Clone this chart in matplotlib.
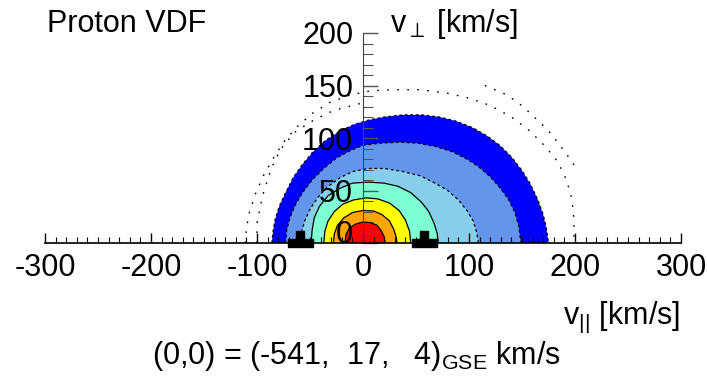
import matplotlib.pyplot as plt
from matplotlib.path import Path

plt.rcParams['font.family'] = ['Liberation Sans', 'DejaVu Sans']
plt.rcParams['mathtext.fontset'] = 'custom'
plt.rcParams['mathtext.rm'] = 'Liberation Sans'
plt.rcParams['mathtext.it'] = 'Liberation Sans'
plt.rcParams['mathtext.sf'] = 'Liberation Sans'
plt.rcParams['axes.unicode_minus'] = False

# VDF contour boundaries in (v_par, v_perp), km/s, outermost level first
lev1_par = [-86, -85, -83, -79, -73, -66, -57, -47, -35, -21, -8, 5, 20, 38, 55, 72,
            88, 103, 117, 129, 140, 150, 158, 165, 170, 173, 175]
lev1_perp = [0, 10, 22, 35, 48, 62, 75, 87, 98, 107, 113, 117, 120, 122, 122, 120,
             116, 110, 102, 93, 82, 69, 56, 41, 27, 14, 0]
lev2_par = [-73, -72, -69, -64, -57, -48, -37, -25, -12, 0, 15, 35, 52, 68, 84, 98,
            110, 120, 129, 137, 143, 147, 149]
lev2_perp = [0, 12, 24, 36, 48, 60, 71, 81, 88, 93, 95, 96, 95, 92, 87, 80,
             72, 63, 53, 42, 30, 16, 0]
lev3_par = [-59, -58, -55, -50, -43, -34, -22, -10, 5, 20, 38, 54, 68, 80, 90, 98,
            104, 107, 109]
lev3_perp = [0, 10, 21, 32, 43, 53, 62, 68, 71, 71, 68, 64, 57, 50, 41, 31,
             21, 11, 0]
lev4_par = [-49, -48, -46, -41, -33, -22, -10, 5, 20, 33, 45, 55, 62, 67, 70, 71]
lev4_perp = [0, 12, 24, 35, 45, 52, 57, 58, 57, 54, 48, 39, 30, 19, 9, 0]
lev5_par = [-37, -36, -33, -27, -19, -9, 3, 14, 25, 34, 40, 44, 45]
lev5_perp = [0, 11, 21, 30, 37, 41, 43, 42, 38, 31, 22, 11, 0]
lev6_par = [-28, -27, -24, -18, -10, 0, 10, 18, 25, 29, 31.5, 32]
lev6_perp = [0, 9, 17, 24, 29, 31, 30.5, 27, 21, 13, 5, 0]
lev7_par = [-17, -16, -13, -7, 0, 7, 13, 17, 20, 21]
lev7_perp = [0, 8, 14, 18, 20, 19.5, 17, 12, 6, 0]

level_colors = ['#0000ff', '#6495ed', '#87ceeb', '#7fffd4', '#ffff00', '#ffa500', '#ff0000']
level_dashed = [True, True, True, False, False, False, False]

# lower contour levels, only partly closed
arc_a_par = [-111, -110, -107, -101, -94, -85, -75, -62, -47, -31, -12, 8, 30, 54, 78,
             100, 120, 140, 157, 172, 184, 192, 197, 199, 199]
arc_a_perp = [0, 14, 30, 48, 64, 80, 96, 111, 124, 134, 141, 145, 146, 146, 143,
              138, 131, 120, 107, 92, 77, 60, 42, 22, 0]
arc_b_par = [115, 136, 151, 174, 189, 202]
arc_b_perp = [150, 141, 130, 108, 89, 70]
arc_c_par = [-100, -100, -95, -87, -78, -65, -50, -33, -21, -2]
arc_c_perp = [0, 19, 44, 70, 89, 105, 115, 124, 128, 133]

# bulk markers on the v_par axis
mark_par = [-59, 58]

levels = [
    (lev1_par, lev1_perp), (lev2_par, lev2_perp), (lev3_par, lev3_perp),
    (lev4_par, lev4_perp), (lev5_par, lev5_perp), (lev6_par, lev6_perp),
    (lev7_par, lev7_perp),
]

fig = plt.figure(figsize=(7.07, 3.88), dpi=100)
ax = fig.add_axes([45 / 707, 145 / 388, 636 / 707, 210 / 388])

for (vx, vy), color in zip(levels, level_colors):
    ax.fill(vx, vy, color=color, lw=0, zorder=1)
for (vx, vy), dashed in zip(levels, level_dashed):
    ls = (0, (2.2, 2.2)) if dashed else '-'
    ax.plot(vx, vy, color='black', lw=0.9, ls=ls, zorder=2)

for vx, vy in [(arc_a_par, arc_a_perp), (arc_b_par, arc_b_perp), (arc_c_par, arc_c_perp)]:
    ax.plot(vx, vy, color='black', lw=1.0, ls=(0, (1.2, 6)), zorder=2)

# inverted-T marker
tee = Path([(-0.5, -0.16), (0.5, -0.16), (0.5, 0.16), (0.14, 0.16), (0.14, 0.5),
            (-0.14, 0.5), (-0.14, 0.16), (-0.5, 0.16), (-0.5, -0.16)],
           [Path.MOVETO] + [Path.LINETO] * 7 + [Path.CLOSEPOLY])
ax.plot(mark_par, [0] * len(mark_par), ls='none', marker=tee, markersize=18,
        color='black', clip_on=False, zorder=5)

ax.set_xlim(-300, 300)
ax.set_ylim(0, 200)

for side in ['top', 'right']:
    ax.spines[side].set_visible(False)
ax.spines['left'].set_position(('data', 0))
ax.spines['left'].set_color('#444444')
ax.spines['bottom'].set_linewidth(1.2)

ax.set_xticks([-300, -200, -100, 0, 100, 200, 300])
ax.set_xticks(range(-300, 301, 10), minor=True)
ax.set_yticks([0, 50, 100, 150, 200])
ax.set_yticks(range(0, 201, 10), minor=True)
ax.tick_params(axis='x', which='major', direction='in', length=7, width=1, pad=7, labelsize=22)
ax.tick_params(axis='x', which='minor', direction='in', length=4, width=0.8)
ax.tick_params(axis='y', which='major', direction='in', length=11, width=1,
               color='#555555', pad=7, labelsize=22)
ax.tick_params(axis='y', which='minor', direction='in', length=7, width=0.8, color='#555555')
ax.get_yticklabels()[0].set_verticalalignment('baseline')

fig.text(47 / 707, 356 / 388, 'Proton VDF', fontsize=22, va='baseline')
fig.text(390 / 707, 356 / 388, r'v$_\perp$ [km/s]', fontsize=22, va='baseline')
fig.text(680 / 707, 64 / 388, r'v$_{||}$ [km/s]', fontsize=22, va='baseline', ha='right')
fig.text(152 / 707, 24 / 388, r'(0,0) = (-541,  17,   4)$_\mathregular{GSE}$ km/s',
         fontsize=22, va='baseline')

fig.savefig('out.png', dpi=100)
